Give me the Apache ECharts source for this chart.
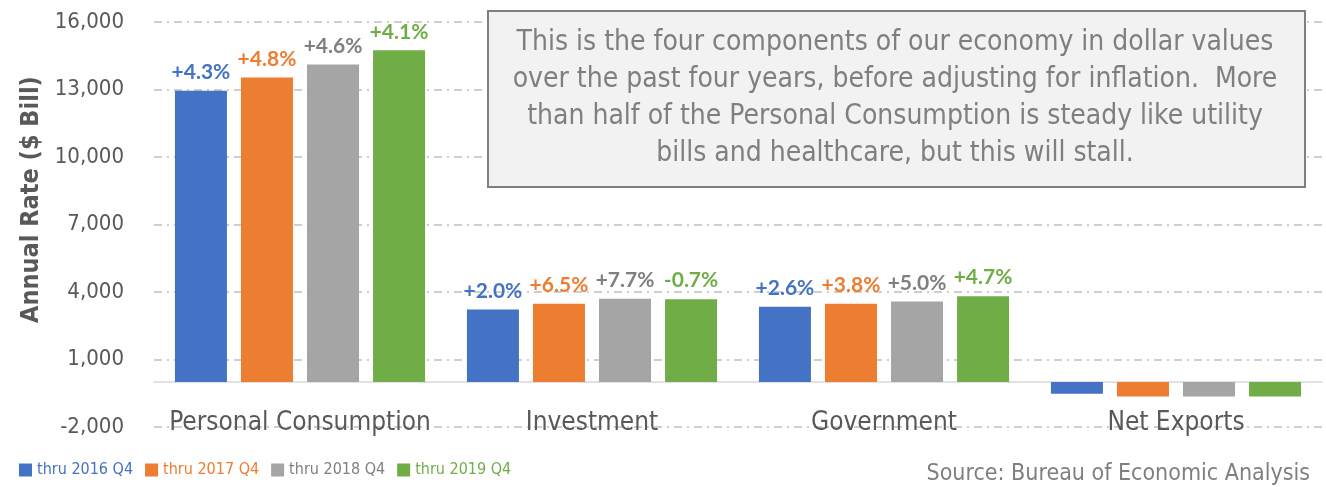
<!DOCTYPE html>
<html>
<head>
<meta charset="utf-8">
<script src="https://cdn.jsdelivr.net/npm/echarts@6/dist/echarts.min.js"></script>
<style>
html,body{margin:0;padding:0;background:#fff;}
#chart{width:1326px;height:487px;}
</style>
</head>
<body>
<div id="chart"></div>
<script>
const categories = ['Personal Consumption', 'Investment', 'Government', 'Net Exports'];
const seriesNames = ['thru 2016 Q4', 'thru 2017 Q4', 'thru 2018 Q4', 'thru 2019 Q4'];
const v2016 = [12950, 3220, 3340, -525];
const v2017 = [13530, 3475, 3475, -640];
const v2018 = [14110, 3700, 3580, -645];
const v2019 = [14740, 3680, 3815, -640];
const g2016 = ['+4.3%', '+2.0%', '+2.6%', ''];
const g2017 = ['+4.8%', '+6.5%', '+3.8%', ''];
const g2018 = ['+4.6%', '+7.7%', '+5.0%', ''];
const g2019 = ['+4.1%', '-0.7%', '+4.7%', ''];
const yTicks = { min: -2000, max: 16000, interval: 3000 };
const noteText = 'This is the four components of our economy in dollar values\nover the past four years, before adjusting for inflation.  More\nthan half of the Personal Consumption is steady like utility\nbills and healthcare, but this will stall.';
const sourceText = 'Source: Bureau of Economic Analysis';

const barColors = ['#4472C4', '#ED7D31', '#A5A5A5', '#70AD47'];
const textColors = ['#4472C4', '#ED7D31', '#7F7F7F', '#70AD47'];
const narrow = "'Liberation Sans Narrow', 'DejaVu Sans Condensed', sans-serif";
const cond = "'DejaVu Sans Condensed', 'Liberation Sans Narrow', sans-serif";

const values = [v2016, v2017, v2018, v2019];
const growth = [g2016, g2017, g2018, g2019];

const chart = echarts.init(document.getElementById('chart'), null, { renderer: 'canvas' });

const series = seriesNames.map((name, i) => ({
  name: name,
  type: 'bar',
  barWidth: 52,
  barGap: '27%',
  itemStyle: { color: barColors[i] },
  label: {
    show: true,
    position: 'top',
    distance: 8,
    fontFamily: "Lato, 'Open Sans', sans-serif",
    fontWeight: 'bold',
    fontSize: 21,
    color: textColors[i],
    formatter: p => growth[i][p.dataIndex]
  },
  data: values[i]
}));

chart.setOption({
  animation: false,
  grid: { left: 154, right: 4, top: 22, bottom: 60, containLabel: false },
  legend: {
    left: 14,
    top: 457,
    icon: 'rect',
    itemWidth: 13,
    itemHeight: 13,
    itemGap: 12,
    textStyle: { fontFamily: narrow, fontSize: 16 },
    data: seriesNames.map((n, i) => ({ name: n, textStyle: { color: textColors[i] } }))
  },
  xAxis: {
    type: 'category',
    data: categories,
    axisLine: { onZero: true, lineStyle: { color: '#D9D9D9', width: 1.5 } },
    axisTick: { show: false },
    axisLabel: { margin: -17, interval: 0, hideOverlap: false, fontSize: 26, color: '#595959', fontFamily: cond },
    splitLine: { show: false }
  },
  yAxis: {
    type: 'value',
    min: yTicks.min,
    max: yTicks.max,
    interval: yTicks.interval,
    name: 'Annual Rate ($ Bill)',
    nameLocation: 'middle',
    nameGap: 110,
    nameTextStyle: { fontSize: 25, color: '#595959', fontFamily: cond, fontWeight: 'bold', padding: [0, 0, 0, 50] },
    axisLine: { show: false },
    axisTick: { show: false },
    axisLabel: {
      margin: 30, fontSize: 22, color: '#595959', fontFamily: narrow,
      formatter: v => v.toLocaleString('en-US')
    },
    splitLine: { show: true, lineStyle: { color: '#BFBFBF', width: 1.5, type: [8, 5, 2, 5] } }
  },
  graphic: [
    {
      type: 'rect',
      left: 487, top: 10, z: 10,
      shape: { width: 817, height: 176 },
      style: { fill: '#F2F2F2', stroke: '#7F7F7F', lineWidth: 2 }
    },
    {
      type: 'text',
      x: 895, y: 98, z: 11,
      style: {
        text: noteText,
        fill: '#7F7F7F',
        font: "28px " + narrow,
        lineHeight: 37,
        textAlign: 'center',
        textVerticalAlign: 'middle'
      }
    },
    {
      type: 'text',
      x: 1310, y: 474, z: 11,
      style: {
        text: sourceText,
        fill: '#7F7F7F',
        font: "23px " + narrow,
        textAlign: 'right',
        textVerticalAlign: 'middle'
      }
    }
  ],
  series: series
});
</script>
</body>
</html>
